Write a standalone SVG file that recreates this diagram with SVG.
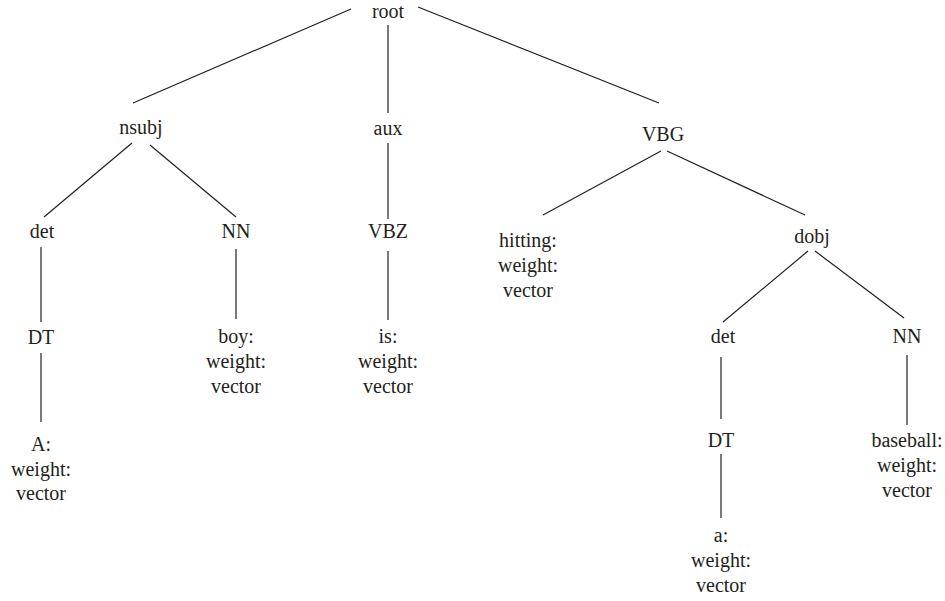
<svg xmlns="http://www.w3.org/2000/svg" width="945" height="601" viewBox="0 0 945 601">
<style>
text{font-family:"Liberation Serif","DejaVu Serif","Times New Roman",serif;font-size:20px;fill:#231f20;text-anchor:middle}
#edges line{stroke:#231f20;stroke-width:1.2;fill:none}
</style>
<rect width="945" height="601" fill="#fff"/>
<g id="edges">
<line x1="351" y1="9" x2="133" y2="103"/>
<line x1="388" y1="25" x2="388" y2="113"/>
<line x1="418" y1="7" x2="659" y2="103"/>
<line x1="132" y1="143" x2="44" y2="217"/>
<line x1="150" y1="145" x2="236" y2="217"/>
<line x1="388" y1="143" x2="388" y2="219"/>
<line x1="41" y1="247" x2="41" y2="322"/>
<line x1="41" y1="353" x2="41" y2="422"/>
<line x1="236" y1="249" x2="236" y2="319"/>
<line x1="388" y1="251" x2="388" y2="320"/>
<line x1="661" y1="151" x2="543" y2="215"/>
<line x1="667" y1="151" x2="805" y2="215"/>
<line x1="808" y1="251" x2="723" y2="322"/>
<line x1="815" y1="251" x2="904" y2="318"/>
<line x1="721" y1="357" x2="721" y2="419"/>
<line x1="721" y1="454" x2="721" y2="518"/>
<line x1="907" y1="355" x2="907" y2="425"/>
</g>
<g font-family="Liberation Serif, DejaVu Serif, serif">
<g id="root"><text x="388" y="18">root</text></g>
<g id="nsubj"><text x="141" y="134">nsubj</text></g>
<g id="aux"><text x="388" y="135">aux</text></g>
<g id="VBG"><text x="663" y="141">VBG</text></g>
<g id="det1"><text x="42" y="238">det</text></g>
<g id="NN1"><text x="236" y="238">NN</text></g>
<g id="VBZ"><text x="388" y="238">VBZ</text></g>
<g id="hitting"><text x="528" y="247">hitting:</text><text x="528" y="272">weight:</text><text x="528" y="297">vector</text></g>
<g id="dobj"><text x="812" y="243">dobj</text></g>
<g id="DT1"><text x="41" y="344">DT</text></g>
<g id="boy"><text x="236" y="343">boy:</text><text x="236" y="368">weight:</text><text x="236" y="393">vector</text></g>
<g id="is"><text x="388" y="343">is:</text><text x="388" y="368">weight:</text><text x="388" y="393">vector</text></g>
<g id="det2"><text x="723" y="343">det</text></g>
<g id="NN2"><text x="907" y="343">NN</text></g>
<g id="A"><text x="41" y="451">A:</text><text x="41" y="476">weight:</text><text x="41" y="500">vector</text></g>
<g id="DT2"><text x="721" y="447">DT</text></g>
<g id="baseball"><text x="907" y="447">baseball:</text><text x="907" y="472">weight:</text><text x="907" y="497">vector</text></g>
<g id="a"><text x="721" y="542">a:</text><text x="721" y="567">weight:</text><text x="721" y="592">vector</text></g>
</g>
</svg>
